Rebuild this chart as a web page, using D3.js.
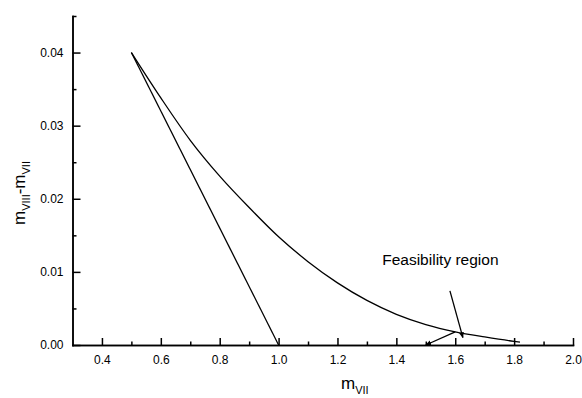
<!DOCTYPE html>
<html>
<head>
<meta charset="utf-8">
<script src="https://cdn.jsdelivr.net/npm/d3@7"></script>
<style>
    html, body { margin: 0; padding: 0; background: #fff; }
    svg { display: block; font-family: "Liberation Sans", Arial, sans-serif; }
    .axis path, .axis line { stroke: #000; stroke-width: 1.5px; }
    .axis text { font-size: 12px; fill: #000; }
</style>
</head>
<body>
<div id="chart"></div>
<script>
    'use strict';

    // upper boundary curve
    var curveX = [0.5, 0.6, 0.7, 0.8, 0.9, 1.0, 1.1, 1.2, 1.3, 1.4, 1.5, 1.6, 1.7, 1.8, 1.82];
    var curveY = [0.0400, 0.0338, 0.0280, 0.0231, 0.0188, 0.0148, 0.0114, 0.0085, 0.0061, 0.0042, 0.0028, 0.0018, 0.0011, 0.0005, 0.0004];

    // straight boundary
    var lineX = [0.5, 1.0];
    var lineY = [0.040, 0.0];

    // annotation arrows
    var arrowFrom = [[1.582, 0.0074], [1.60, 0.0018]];
    var arrowTo = [[1.626, 0.0010], [1.50, 0.0]];
    var noteText = "Feasibility region";
    var noteAt = [1.352, 0.0109];

    var xMajor = [0.4, 0.6, 0.8, 1.0, 1.2, 1.4, 1.6, 1.8, 2.0];
    var xMinor = [0.5, 0.7, 0.9, 1.1, 1.3, 1.5, 1.7, 1.9];
    var yMajor = [0.00, 0.01, 0.02, 0.03, 0.04];
    var yMinor = [0.005, 0.015, 0.025, 0.035, 0.045];

    var width = 582, height = 398;

    var svg = d3.select("#chart").append("svg")
        .attr("width", width)
        .attr("height", height);

    svg.append("rect").attr("width", width).attr("height", height).attr("fill", "#fff");

    var x = d3.scaleLinear().domain([0.3, 2.0]).range([72.5, 573]);
    var y = d3.scaleLinear().domain([0, 0.045]).range([345, 16]);

    // minor ticks first, then major ticks with labels
    svg.append("g").attr("class", "axis").attr("transform", "translate(0,345)")
        .call(d3.axisBottom(x).tickValues(xMinor).tickSizeInner(-3.5).tickSizeOuter(0).tickFormat(""));
    svg.append("g").attr("class", "axis").attr("transform", "translate(72.5,0)")
        .call(d3.axisLeft(y).tickValues(yMinor).tickSizeInner(-4).tickSizeOuter(0).tickFormat(""));

    svg.append("g").attr("class", "axis").attr("transform", "translate(0,345)")
        .call(d3.axisBottom(x).tickValues(xMajor).tickSizeInner(-7).tickSizeOuter(0)
            .tickPadding(10).tickFormat(d3.format(".1f")));
    svg.append("g").attr("class", "axis").attr("transform", "translate(72.5,0)")
        .call(d3.axisLeft(y).tickValues(yMajor).tickSizeInner(-8).tickSizeOuter(0)
            .tickPadding(9).tickFormat(d3.format(".2f")));

    svg.selectAll(".axis path").attr("stroke-linecap", "square");

    // boundaries
    var curveData = curveX.map(function(v, i) { return [v, curveY[i]]; });
    var lineData = lineX.map(function(v, i) { return [v, lineY[i]]; });

    var path = d3.line()
        .x(function(d) { return x(d[0]); })
        .y(function(d) { return y(d[1]); });

    svg.append("path")
        .datum(curveData)
        .attr("d", path.curve(d3.curveMonotoneX))
        .attr("fill", "none")
        .attr("stroke", "#000")
        .attr("stroke-width", 1.3);

    svg.append("path")
        .datum(lineData)
        .attr("d", path.curve(d3.curveLinear))
        .attr("fill", "none")
        .attr("stroke", "#000")
        .attr("stroke-width", 1.3);

    // arrows
    svg.append("defs").append("marker")
        .attr("id", "head")
        .attr("viewBox", "0 0 10 10")
        .attr("refX", 9).attr("refY", 5)
        .attr("markerWidth", 6).attr("markerHeight", 6)
        .attr("markerUnits", "userSpaceOnUse")
        .attr("orient", "auto")
        .append("path")
        .attr("d", "M0,1 L10,5 L0,9 Z")
        .attr("fill", "#000");

    svg.selectAll(".arrow").data(arrowFrom).enter().append("line")
        .attr("class", "arrow")
        .attr("x1", function(d) { return x(d[0]); })
        .attr("y1", function(d) { return y(d[1]); })
        .attr("x2", function(d, i) { return x(arrowTo[i][0]); })
        .attr("y2", function(d, i) { return y(arrowTo[i][1]); })
        .attr("stroke", "#000")
        .attr("stroke-width", 1.3)
        .attr("marker-end", "url(#head)");

    svg.append("text")
        .attr("x", x(noteAt[0]))
        .attr("y", y(noteAt[1]))
        .attr("font-size", "15.5px")
        .text(noteText);

    // axis titles
    var xt = svg.append("text")
        .attr("x", 341).attr("y", 389)
        .attr("font-size", "17px");
    xt.append("tspan").text("m");
    xt.append("tspan").attr("font-size", "11px").attr("dy", 5).text("VII");

    var yt = svg.append("text")
        .attr("transform", "translate(25,193) rotate(-90)")
        .attr("text-anchor", "middle")
        .attr("font-size", "17px");
    yt.append("tspan").text("m");
    yt.append("tspan").attr("font-size", "11px").attr("dy", 5).text("VIII");
    yt.append("tspan").attr("dy", -5).text("-m");
    yt.append("tspan").attr("font-size", "11px").attr("dy", 5).text("VII");
</script>
</body>
</html>
